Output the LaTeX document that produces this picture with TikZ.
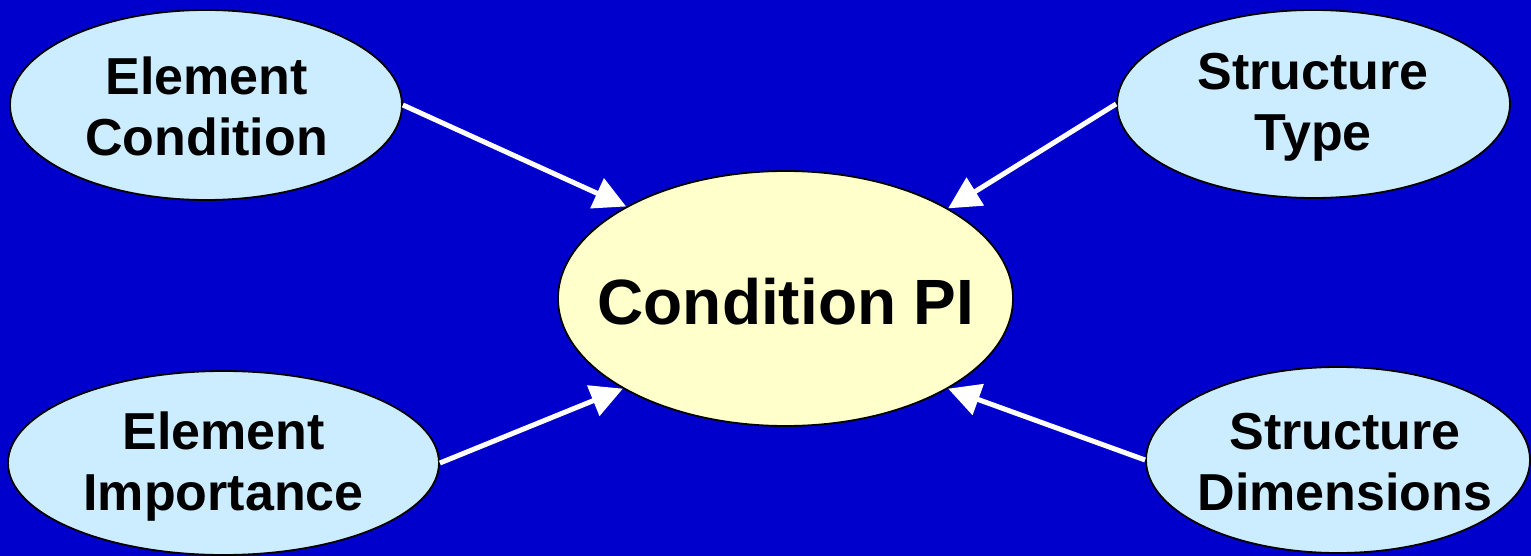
\documentclass[tikz,border=0pt]{standalone}
\usepackage{fontspec}
\setmainfont{Liberation Sans}
\usetikzlibrary{arrows.meta,shapes.geometric}
\definecolor{bgblue}{RGB}{0,0,204}
\definecolor{lightblue}{RGB}{204,236,255}
\definecolor{lightyellow}{RGB}{255,255,204}
\tikzset{
  ell/.style={ellipse,draw=black,line width=1.8pt,inner sep=0pt},
  smalltxt/.style={align=center,font=\fontsize{52}{61}\selectfont\bfseries,inner sep=0pt},
  bigtxt/.style={font=\fontsize{64}{70}\selectfont\bfseries,inner sep=0pt},
  arr/.style={draw=white,line width=5pt,-{Triangle[length=32pt,width=32pt]}}
}
\begin{document}
\begin{tikzpicture}[x=1pt,y=-1pt]
\fill[bgblue] (0,0) rectangle (1531,556);
\useasboundingbox (0,0) rectangle (1531,556);
\node[ell,fill=lightyellow,minimum width=455pt,minimum height=255pt] (cpi) at (785.5,298.5) {};
\node[ell,fill=lightblue,minimum width=392pt,minimum height=190pt] (ec) at (206,105) {};
\node[ell,fill=lightblue,minimum width=393pt,minimum height=188pt] (st) at (1313.5,104) {};
\node[ell,fill=lightblue,minimum width=431pt,minimum height=184pt] (ei) at (223.5,463) {};
\node[ell,fill=lightblue,minimum width=384pt,minimum height=186pt] (sd) at (1338,460) {};
\node[bigtxt] (cpit) at (786,302) {Condition PI};
\node[smalltxt] (ect) at (206.5,106) {Element\\Condition};
\node[smalltxt] (stt) at (1313,107) {Structure\\Type};
\node[smalltxt] (eit) at (223.5,467) {Element\\Importance};
\node[smalltxt] (sdt) at (1345,462) {Structure\\Dimensions};
\draw[arr] (ec.east) -- (cpi.150.6);
\draw[arr] (st.west) -- (cpi.29.5);
\draw[arr] (ei.east) -- (cpi.209.2);
\draw[arr] (sd.west) -- (cpi.331);
\end{tikzpicture}
\end{document}
